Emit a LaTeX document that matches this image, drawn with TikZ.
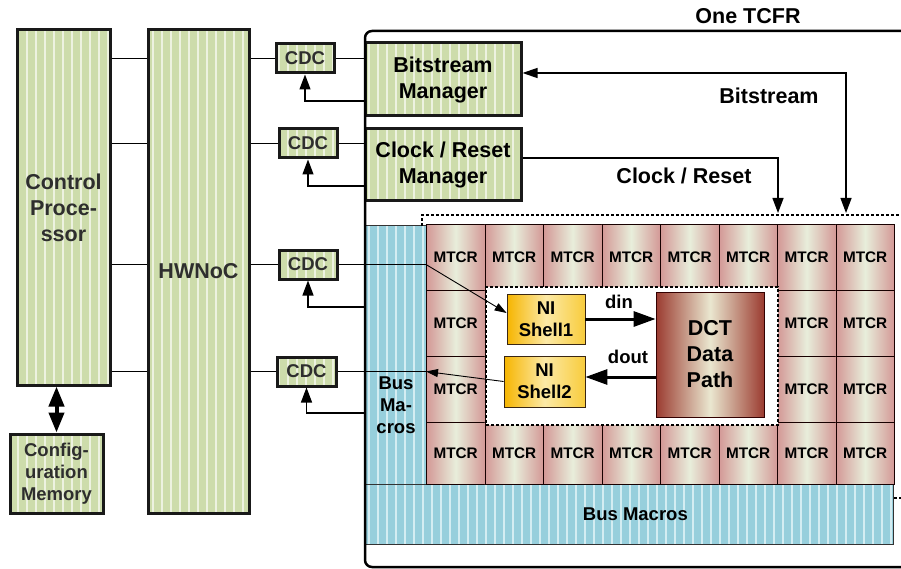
\documentclass[tikz,border=0pt]{standalone}
\usepackage{fontspec}
\setmainfont{Liberation Sans}
\usetikzlibrary{arrows.meta,patterns.meta}

\definecolor{grn}{HTML}{CDDCAB}
\definecolor{grnline}{HTML}{EDF2E0}
\definecolor{blu}{HTML}{97CFDC}
\definecolor{bluline}{HTML}{D4EDF2}
\definecolor{mtcredge}{HTML}{D39896}
\definecolor{mtcrmid}{HTML}{E8EEDB}
\definecolor{dctedge}{HTML}{9B3B30}
\definecolor{dctmid}{HTML}{EAE7D0}
\definecolor{nileft}{HTML}{F6B500}
\definecolor{nimid}{HTML}{FCE9A6}
\definecolor{niright}{HTML}{F8CC3C}
\definecolor{txtgray}{HTML}{2E2E2E}

\newcommand\tcfrLarge{\fontsize{21.5}{26}\selectfont\bfseries}
\newcommand\tcfrMid{\fontsize{18.5}{22}\selectfont\bfseries}
\newcommand\tcfrCell{\fontsize{15.3}{18}\selectfont\bfseries}

\tikzset{
  grnbox/.style={preaction={fill=grn},
    pattern={Lines[angle=90,distance=9pt,line width=1.1pt]}, pattern color=grnline,
    draw=black!90, line width=3pt, align=center, inner sep=0pt, text=txtgray},
  blubox/.style={preaction={fill=blu},
    pattern={Lines[angle=90,distance=9pt,line width=1.1pt]}, pattern color=bluline,
    draw=black!80, line width=0.8pt, align=center, inner sep=0pt},
  mtcr/.style={draw=black!70!red!30!black, line width=0.8pt,
    left color=mtcredge, right color=mtcredge, middle color=mtcrmid,
    minimum width=58.5, inner sep=0pt, font=\tcfrCell},
  nibox/.style={draw=black!70!brown, line width=0.8pt,
    left color=nileft, right color=niright, middle color=nimid,
    align=center, inner sep=0pt, font=\tcfrMid},
  conn/.style={draw=black, line width=1.3pt},
  uparrow/.style={conn, -{Triangle[length=15pt,width=11pt]}},
  thinarrow/.style={draw=black, line width=0.9pt, -{Triangle[length=12pt,width=8pt]}},
  bigarrow/.style={draw=black, line width=3pt, -{Triangle[length=22pt,width=15pt]}},
  dotline/.style={draw=black, line width=1.5pt, dash pattern=on 3pt off 2pt},
}

\begin{document}
\begin{tikzpicture}[x=1pt,y=-1pt]
\useasboundingbox (0,0) rectangle (901,569);

% ---- left side: processor, memory, network ----
\node[grnbox, minimum width=93, minimum height=355, font=\tcfrLarge] (cp) at (63.5,207.5) {Control\\Proce-\\ssor};
\node[grnbox, minimum width=93, minimum height=79, font=\tcfrMid] (cfg) at (56.5,473.5) {Config-\\uration\\Memory};
\node[grnbox, minimum width=101, minimum height=483, font=\tcfrLarge] (hw) at (198.5,271.5) {HWNoC};

% clock domain crossings
\node[grnbox, minimum width=58, minimum height=29, font=\tcfrMid] (cdc1) at (305,58.5) {CDC};
\node[grnbox, minimum width=58, minimum height=29, font=\tcfrMid] (cdc2) at (308,143.5) {CDC};
\node[grnbox, minimum width=58, minimum height=29, font=\tcfrMid] (cdc3) at (308,264.5) {CDC};
\node[grnbox, minimum width=59, minimum height=29, font=\tcfrMid] (cdc4) at (306.5,371.5) {CDC};

% ---- reconfigurable region contents ----
\node[blubox, minimum width=61, minimum height=259, anchor=north west] (bml) at (365,225) {};
\node[blubox, minimum width=528, minimum height=60, anchor=north west, font=\tcfrMid] (bmb) at (365,484) {\hspace{12pt}Bus Macros};
\node[font=\tcfrMid, align=center, inner sep=0pt] at (396,405) {Bus\\Ma-\\cros};

\foreach \c in {0,...,7}
  \foreach \r/\yy/\hh in {0/224/66,1/290/66,2/356/66,3/422/62}
    \node[mtcr, minimum height=\hh, anchor=north west] (m\c\r) at ({426+58.5*\c},\yy) {MTCR};

% region holding the DCT core
\node[dotline, fill=white, minimum width=292, minimum height=138, anchor=north west] (core) at (485,286) {};
\node[nibox, minimum width=78, minimum height=50] (ni1) at (546,319) {NI\\Shell1};
\node[nibox, minimum width=81, minimum height=51] (ni2) at (544.5,381.5) {NI\\Shell2};
\node[draw=black!80!red, line width=0.8pt, left color=dctedge, right color=dctedge, middle color=dctmid,
      minimum width=108, minimum height=125, align=center, inner sep=0pt,
      font=\tcfrLarge] (dct) at (710,354.5) {DCT\\Data\\Path};

\draw[bigarrow] (ni1.east) -- (dct.west |- ni1.east);
\coordinate (doutS) at ([yshift=4.5pt]ni2.east);
\draw[bigarrow] (dct.west |- doutS) -- (doutS);
\node[font=\tcfrMid, inner sep=0pt] at (619,302) {din};
\node[font=\tcfrMid, inner sep=0pt] at (628,357) {dout};

% dotted boundary of the region
\draw[dotline] (422,226) -- (422,215) -- (901,215);
\draw[dotline] (894,498) -- (901,498);

% managers
\node[grnbox, minimum width=156, minimum height=73, font=\tcfrLarge, text=black] (bm) at (443,79.5) {Bitstream\\Manager};
\node[grnbox, minimum width=156, minimum height=72, font=\tcfrLarge, text=black] (cm) at (443,165) {Clock / Reset\\Manager};

% TCFR outline
\draw[line width=2.5pt, rounded corners=7pt] (901,31) -- (365,31) -- (365,567) -- (901,567);
\node[font=\tcfrLarge, inner sep=0pt] at (748,16) {One TCFR};

% ---- connectors ----
\foreach \k in {1,2,3,4} {
  \draw[conn] (cp.east |- cdc\k.west) -- (hw.west |- cdc\k.west);
  \draw[conn] (hw.east |- cdc\k.west) -- (cdc\k.west);
}
\draw[conn] (cdc1.east) -- (bm.west |- cdc1.east);
\draw[conn] (cdc2.east) -- (cm.west |- cdc2.east);

\coordinate (fb1) at (365,101);
\coordinate (fb2) at (365,186);
\coordinate (fb3) at (365,307);
\coordinate (fb4) at (365,413);
\draw[uparrow] (fb1) -| (cdc1.south);
\draw[uparrow] (fb2) -| (cdc2.south);
\draw[uparrow] (fb3) -| (cdc3.south);
\draw[uparrow] (fb4) -| (cdc4.south);

\coordinate (bm3) at (426,264.5);
\draw[conn] (cdc3.east) -- (bm3);
\draw[thinarrow] (bm3) -- ([yshift=6pt]ni1.west);
\coordinate (bm4) at (426,371.5);
\draw[conn] (cdc4.east) -- (bm4);
\draw[thinarrow] (ni2.west) -- (bm4);

% bitstream and clock/reset distribution
\coordinate (bsDown) at (846,213);
\coordinate (crDown) at (778,213);
\draw[conn, {Triangle[length=15pt,width=10pt]}-{Triangle[length=15pt,width=11pt]}]
  ([yshift=6.5pt]bm.east) -| (bsDown);
\draw[conn, -{Triangle[length=15pt,width=11pt]}] ([yshift=7pt]cm.east) -| (crDown);
\node[font=\tcfrLarge, inner sep=0pt] at (769,96) {Bitstream};
\node[font=\tcfrLarge, inner sep=0pt] at (684,176) {Clock / Reset};

% processor <-> configuration memory
\draw[draw=black, line width=4pt,
  {Triangle[length=20pt,width=15pt]}-{Triangle[length=20pt,width=15pt]}]
  (cfg.north |- cp.south) -- (cfg.north);
\end{tikzpicture}
\end{document}
